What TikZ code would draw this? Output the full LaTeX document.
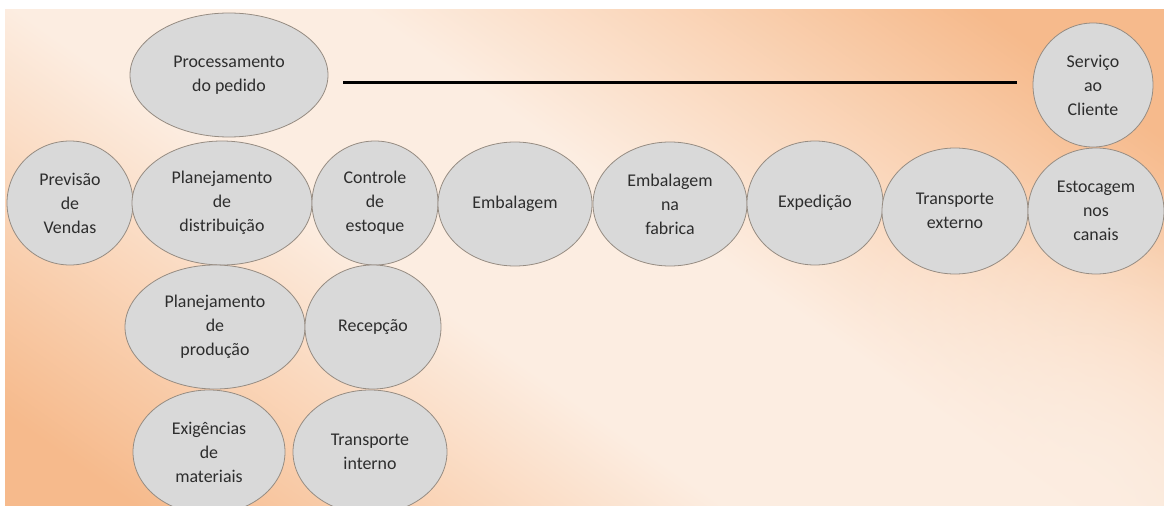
\documentclass[tikz,border=0pt]{standalone}
\usepackage{fontspec}
\setmainfont{Carlito}
\usetikzlibrary{shapes.geometric,fadings}
\definecolor{bgorange}{RGB}{246,186,140}
\definecolor{bgmid}{RGB}{250,214,186}
\definecolor{bglight}{RGB}{252,237,225}
\definecolor{ellfill}{RGB}{217,217,217}
\definecolor{elldraw}{RGB}{150,140,130}
\definecolor{txtcol}{RGB}{45,45,45}
\pgfdeclareverticalshading{bgshade}{100bp}{color(0bp)=(bgorange); color(22bp)=(bgorange); color(34bp)=(bgmid); color(45bp)=(bglight); color(58bp)=(bglight); color(68bp)=(bgmid); color(80bp)=(bgorange); color(100bp)=(bgorange)}
\tikzfading[name=softglow, inner color=transparent!0, outer color=transparent!100]
\begin{document}
\begin{tikzpicture}[x=1pt,y=-1pt,
  bub/.style={ellipse, draw=elldraw, line width=0.8pt, fill=ellfill, inner sep=0pt,
    align=center, text=txtcol, font=\fontsize{17.9}{24}\selectfont},
  sz/.style n args={2}{minimum width=#1pt, minimum height=#2pt},
  bar/.style={line width=3pt, black}
]
\useasboundingbox (0,0) rectangle (1164,508);
\fill[white] (0,0) rectangle (1164,508);
\begin{scope}
\clip (5,10) rectangle (1164,505);
\shade[shading=bgshade, shading angle=145] (5,10) rectangle (1164,505);
\fill[bglight, path fading=softglow] (1080,500) circle (330);
\node[bub, sz={198}{124}] (proc) at (229,75) {Processamento\\do pedido};
\node[bub, sz={120}{124}] (serv) at (1093,85) {Serviço\\ao\\Cliente};
\node[bub, sz={126}{124}] (prev) at (70,203) {Previsão\\de\\Vendas};
\node[bub, sz={180}{124}] (pdist) at (222,203) {Planejamento\\de\\distribuição};
\node[bub, sz={126}{124}] (ctrl) at (375,203) {Controle\\de\\estoque};
\node[bub, sz={154}{124}] (emb) at (515,204) {Embalagem};
\node[bub, sz={154}{124}] (embf) at (670,204) {Embalagem\\na\\fabrica};
\node[bub, sz={136}{124}] (exped) at (815,203) {Expedição};
\node[bub, sz={146}{126}] (text) at (955,211) {Transporte\\externo};
\node[bub, sz={136}{126}] (estoc) at (1096,211) {Estocagem\\nos\\canais};
\node[bub, sz={180}{124}] (pprod) at (215,327) {Planejamento\\de\\produção};
\node[bub, sz={136}{124}] (rec) at (373,327) {Recepção};
\node[bub, sz={152}{124}] (exig) at (209,452) {Exigências\\de\\materiais};
\node[bub, sz={154}{124}] (tint) at (370,452) {Transporte\\interno};
\coordinate (lineA) at (343,83);
\coordinate (lineB) at (1017,83);
\draw[bar] (lineA) -- (lineB);
\end{scope}
\end{tikzpicture}
\end{document}
